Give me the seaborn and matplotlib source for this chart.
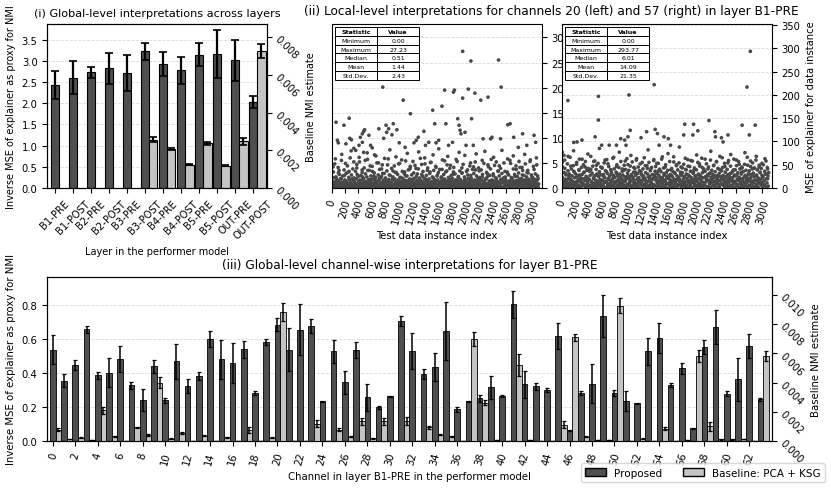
import numpy as np
import pandas as pd
import seaborn as sns
import matplotlib.pyplot as plt
from matplotlib.patches import Patch

sns.set_style("ticks")
plt.rcParams["font.family"] = ["DejaVu Sans"]
plt.rcParams.update({
    "font.size": 7.2,
    "axes.edgecolor": "black",
    "text.color": "black",
    "axes.labelcolor": "black",
    "xtick.color": "black",
    "ytick.color": "black",
    "axes.linewidth": 0.8,
})

DARK = "#4f4f4f"
LIGHT = "#c4c4c4"
POINT = "#484848"

# =========================
# (i) layer-wise data
# =========================
layers = ["B1-PRE", "B1-POST", "B2-PRE", "B2-POST", "B3-PRE", "B3-POST",
          "B4-PRE", "B4-POST", "B5-PRE", "B5-POST", "OUT-PRE", "OUT-POST"]
prop_layer = [2.43, 2.60, 2.73, 2.82, 2.72, 3.23, 2.92, 2.78, 3.15, 3.16, 3.01, 2.03]
prop_layer_err = [0.33, 0.39, 0.13, 0.37, 0.43, 0.20, 0.28, 0.32, 0.26, 0.57, 0.48, 0.14]
base_layer = [np.nan, np.nan, np.nan, np.nan, np.nan, 0.00257, 0.00207, 0.00124,
              0.00237, 0.00119, 0.00248, 0.00726]
base_layer_err = [np.nan, np.nan, np.nan, np.nan, np.nan, 0.00011, 0.00007, 0.00003,
                  0.00009, 0.00003, 0.00019, 0.00037]

# =========================
# (ii) per-instance MSE, channel 20 and 57
# =========================
# dense band, every 10th instance (channel 20, in tenths)
band20_tenths = [
    3, 12, 5, 0, 21, 8, 2, 15, 6, 1, 30, 4, 9, 2, 18, 7, 0, 11, 3, 25,
    5, 1, 14, 8, 2, 6, 33, 3, 10, 0, 7, 19, 4, 2, 12, 5, 1, 9, 27, 3,
    6, 0, 16, 2, 8, 4, 22, 1, 11, 5, 3, 13, 7, 0, 35, 2, 9, 6, 1, 17,
    4, 10, 2, 24, 6, 1, 8, 3, 14, 0, 5, 20, 2, 7, 11, 4, 29, 1, 6, 9,
    2, 15, 5, 0, 12, 3, 26, 7, 1, 10, 4, 18, 6, 2, 8, 31, 3, 0, 13, 5,
    7, 1, 21, 4, 9, 2, 6, 16, 0, 11, 3, 24, 5, 1, 8, 14, 2, 38, 6, 4,
    10, 0, 5, 19, 3, 7, 1, 12, 28, 2, 6, 9, 4, 15, 0, 8, 23, 3, 5, 11,
    1, 17, 6, 2, 13, 4, 0, 32, 7, 3, 10, 5, 20, 1, 9, 2, 14, 6, 26, 0,
    4, 8, 12, 1, 22, 5, 3, 16, 0, 7, 11, 2, 34, 6, 1, 9, 18, 4, 2, 13,
    5, 27, 0, 8, 3, 15, 6, 1, 10, 21, 2, 7, 4, 12, 0, 30, 3, 9, 5, 17,
    2, 11, 6, 0, 19, 4, 8, 1, 25, 3, 14, 7, 2, 10, 5, 36, 1, 6, 13, 0,
    9, 3, 16, 5, 1, 22, 7, 2, 12, 4, 0, 18, 6, 28, 3, 8, 1, 11, 5, 15,
    0, 7, 24, 2, 10, 4, 13, 1, 6, 33, 3, 9, 5, 17, 0, 12, 2, 20, 8, 4,
    14, 1, 6, 29, 3, 11, 0, 8, 5, 19, 2, 15, 7, 1, 23, 4, 10, 6, 0, 13,
    3, 18, 5, 9, 1, 26, 4, 12, 7, 0, 16, 2, 31, 6, 10, 3, 14, 1, 8, 21,
    5, 0, 11, 4, 17, 2, 9, 6, 24, 1,
]
# upper band, instances 5, 15, 25, ... (channel 20, in tenths)
band20b_tenths = [
    15, 8, 32, 12, 48, 6, 22, 18, 9, 41, 14, 27, 7, 19, 55, 11, 24, 10, 36, 16,
    9, 29, 13, 44, 8, 21, 17, 60, 12, 26, 6, 38, 15, 20, 10, 33, 18, 47, 7, 23,
    14, 52, 11, 25, 9, 31, 16, 19, 40, 8, 28, 13, 22, 57, 10, 17, 35, 12, 24, 6,
    43, 18, 9, 30, 15, 21, 11, 50, 7, 26, 14, 37, 19, 8, 23, 46, 12, 16, 29, 10,
    20, 7, 34, 13, 58, 17, 9, 25, 11, 39, 15, 22, 6, 44, 18, 12, 31, 8, 27, 16,
    10, 49, 14, 21, 8, 33, 19, 12, 28, 6, 54, 15, 24, 11, 36, 9, 18, 42, 13, 26,
    17, 8, 30, 12, 45, 10, 23, 16, 7, 38, 14, 20, 59, 9, 27, 13, 33, 11, 19, 48,
    6, 25, 15, 40, 10, 18, 29, 8, 51, 13, 22, 9, 35, 17, 12, 43, 7, 24, 16, 31,
    11, 37, 9, 20, 14, 56, 8, 27, 18, 12, 32, 6, 46, 15, 21, 10, 39, 13, 25, 8,
    19, 12, 41, 7, 28, 16, 9, 53, 14, 23, 11, 34, 17, 8, 30, 13, 47, 10, 22, 15,
    8, 33, 12, 26, 18, 9, 44, 14, 20, 7, 37, 11, 29, 16, 52, 10, 24, 13, 19, 40,
    12, 21, 7, 36, 15, 27, 10, 49, 13, 18, 8, 31, 22, 9, 42, 14, 25, 11, 57, 16,
    9, 28, 14, 45, 10, 20, 17, 8, 34, 12, 24, 6, 39, 15, 29, 11, 19, 50, 13, 22,
    16, 10, 32, 8, 26, 14, 55, 11, 21, 18, 9, 38, 13, 27, 7, 44, 15, 23, 12, 30,
    10, 41, 13, 19, 8, 35, 16, 25, 11, 48, 14, 22, 9, 30, 17, 12, 53, 8, 26, 15,
    21, 9, 37, 13, 28, 11, 46, 16, 19, 8,
]
mid20_x = [20, 55, 110, 150, 205, 240, 290, 330, 375, 410, 455, 500, 530, 575, 610,
           660, 700, 745, 790, 835, 870, 915, 960, 1000, 1045, 1090, 1130, 1175, 1215,
           1260, 1300, 1345, 1390, 1430, 1475, 1515, 1560, 1600, 1650, 1690, 1735, 1775,
           1820, 1860, 1905, 1945, 1990, 2030, 2075, 2120, 2160, 2205, 2250, 2290, 2335,
           2375, 2420, 2460, 2505, 2545, 2590, 2630, 2675, 2715, 2760, 2800, 2845, 2885,
           2930, 2970, 3015, 3060]
mid20_y = [4.2, 5.8, 3.5, 6.7, 4.9, 3.1, 7.4, 5.2, 4.0, 6.1, 3.6, 5.5, 7.0, 4.4, 3.3,
           6.4, 5.0, 3.8, 5.9, 4.6, 7.6, 3.4, 6.2, 4.8, 5.6, 3.2, 6.9, 4.3, 5.3, 3.9,
           7.2, 4.7, 6.0, 3.5, 5.1, 6.6, 4.1, 7.8, 3.7, 5.4, 6.3, 4.5, 3.2, 5.7, 7.1,
           4.0, 6.5, 3.6, 5.0, 4.2, 6.8, 3.4, 5.5, 7.3, 4.6, 3.8, 6.1, 5.2, 4.4, 7.5,
           3.3, 5.8, 4.9, 6.4, 3.7, 5.3, 4.1, 6.7, 3.5, 5.6, 4.3, 6.0]
out20_x = [64, 84, 98, 182, 212, 261, 270, 295, 330, 359, 408, 428, 458, 477, 492, 458,
           477, 556, 581, 605, 640, 704, 763, 777, 812, 851, 822, 900, 920, 974, 1009,
           1068, 1097, 1176, 1230, 1264, 1294, 1378, 1402, 1451, 1510, 1540, 1560, 1599,
           1648, 1688, 1707, 1747, 1806, 1820, 1835, 1884, 1904, 1919, 1933, 1958, 1958,
           1993, 2008, 2042, 2081, 2091, 2116, 2140, 2229, 2263, 2337, 2376, 2396, 2494,
           2534, 2524, 2632, 2667, 2721, 2790, 2854, 2917, 3025, 3049]
out20_y = [13.1, 9.5, 9.0, 12.5, 8.8, 13.9, 9.9, 9.6, 7.9, 7.5, 8.5, 10.1, 10.8, 11.3,
           11.6, 9.1, 7.1, 10.5, 8.5, 8.0, 6.6, 11.8, 20.1, 9.9, 12.5, 11.8, 11.1, 10.6,
           12.8, 11.6, 9.0, 17.5, 8.1, 14.8, 9.0, 9.5, 10.1, 11.3, 8.5, 9.1, 15.5, 12.8,
           9.0, 9.5, 16.3, 19.5, 12.8, 8.5, 9.1, 19.1, 19.5, 13.8, 12.5, 11.5, 10.8, 17.9,
           27.23, 11.1, 8.5, 19.7, 25.3, 13.8, 8.5, 18.9, 17.5, 9.8, 18.1, 9.8, 10.1, 25.5,
           20.1, 9.8, 12.6, 12.8, 10.1, 8.1, 10.8, 8.5, 10.5, 9.1]

band57 = [
    6, 22, 3, 14, 9, 1, 31, 5, 17, 8, 2, 26, 11, 4, 19, 7, 0, 13, 36, 5,
    10, 3, 24, 8, 1, 15, 6, 28, 2, 12, 4, 20, 9, 33, 5, 16, 1, 7, 23, 11,
    2, 18, 6, 40, 4, 13, 8, 1, 21, 10, 3, 27, 5, 15, 0, 9, 30, 6, 12, 2,
    17, 7, 4, 25, 11, 1, 14, 35, 3, 8, 19, 5, 10, 2, 29, 6, 13, 4, 22, 9,
    1, 12, 32, 5, 16, 3, 9, 24, 7, 0, 18, 11, 4, 38, 6, 14, 2, 20, 8, 26,
    4, 10, 15, 1, 27, 6, 3, 19, 12, 8, 34, 2, 9, 5, 21, 14, 0, 11, 7, 30,
    13, 3, 23, 8, 5, 17, 1, 10, 42, 4, 15, 6, 25, 2, 12, 9, 19, 3, 7, 28,
    5, 16, 2, 11, 36, 7, 4, 22, 13, 1, 9, 18, 6, 31, 3, 14, 8, 24, 0, 10,
    20, 6, 12, 3, 27, 9, 1, 15, 5, 33, 11, 2, 18, 7, 4, 23, 14, 8, 29, 1,
    7, 13, 4, 21, 10, 2, 39, 6, 16, 3, 11, 25, 5, 9, 1, 17, 12, 32, 4, 8,
    14, 2, 19, 6, 28, 11, 3, 8, 24, 5, 13, 1, 35, 7, 10, 4, 20, 15, 2, 26,
    3, 9, 17, 1, 12, 30, 6, 22, 4, 14, 8, 0, 19, 11, 27, 5, 2, 16, 9, 37,
    8, 21, 5, 13, 2, 10, 25, 7, 1, 18, 12, 4, 31, 6, 15, 3, 23, 9, 0, 14,
    11, 4, 28, 7, 16, 1, 20, 10, 3, 34, 6, 13, 2, 24, 9, 5, 18, 12, 1, 29,
    6, 15, 3, 22, 9, 41, 4, 11, 17, 2, 26, 8, 5, 14, 1, 19, 10, 33, 7, 12,
    2, 24, 8, 16, 5, 30, 1, 11, 20, 4,
]
band57b = [
    24, 45, 15, 33, 60, 19, 28, 12, 52, 37, 21, 30, 66, 17, 41, 26, 14, 48, 35, 22,
    31, 13, 55, 27, 18, 39, 62, 23, 16, 44, 29, 11, 50, 34, 20, 57, 25, 38, 15, 42,
    19, 36, 27, 68, 14, 32, 47, 21, 26, 58, 17, 40, 30, 12, 53, 24, 35, 18, 45, 28,
    43, 16, 29, 54, 22, 37, 13, 61, 31, 20, 46, 25, 15, 39, 33, 19, 64, 27, 41, 23,
    14, 34, 50, 26, 18, 44, 30, 12, 57, 21, 36, 28, 16, 49, 24, 40, 19, 63, 32, 25,
    38, 20, 47, 15, 29, 56, 23, 34, 13, 42, 27, 60, 18, 31, 45, 22, 16, 52, 35, 28,
    17, 41, 26, 65, 21, 33, 14, 48, 30, 24, 55, 19, 37, 12, 44, 29, 20, 59, 25, 36,
    46, 22, 31, 15, 53, 27, 40, 18, 35, 62, 23, 13, 43, 28, 17, 50, 33, 21, 38, 26,
    20, 57, 29, 16, 42, 24, 35, 67, 19, 31, 14, 48, 26, 39, 22, 54, 18, 34, 45, 27,
    33, 18, 51, 25, 13, 40, 30, 21, 61, 28, 16, 46, 36, 23, 15, 58, 32, 19, 43, 26,
    24, 39, 14, 55, 30, 20, 47, 27, 17, 64, 33, 22, 41, 12, 36, 25, 52, 18, 29, 45,
    15, 32, 60, 23, 38, 19, 28, 49, 13, 35, 26, 56, 21, 42, 16, 31, 68, 24, 37, 20,
    44, 27, 17, 53, 34, 22, 14, 40, 29, 59, 25, 18, 47, 32, 21, 36, 15, 62, 28, 39,
    26, 48, 19, 33, 57, 23, 41, 16, 30, 45, 20, 35, 13, 51, 27, 38, 24, 66, 18, 31,
    37, 21, 46, 29, 14, 54, 32, 25, 43, 17, 60, 28, 39, 22, 15, 49, 34, 19, 42, 27,
    23, 50, 16, 36, 30, 58, 20, 44, 26, 33,
]
mid57_x = [10, 48, 95, 135, 178, 222, 262, 305, 350, 392, 436, 478, 520, 565, 606, 648,
           692, 735, 778, 820, 862, 905, 950, 992, 1035, 1078, 1120, 1162, 1205, 1250,
           1292, 1335, 1378, 1420, 1462, 1505, 1548, 1590, 1632, 1676, 1718, 1760, 1805,
           1848, 1890, 1932, 1975, 2018, 2060, 2102, 2145, 2188, 2230, 2272, 2315, 2358,
           2400, 2442, 2485, 2528, 2570, 2612, 2655, 2698, 2740, 2782, 2825, 2868, 2910,
           2952, 2995, 3040, 3080]
mid57_y = [55, 42, 68, 47, 80, 51, 38, 62, 45, 73, 40, 57, 49, 85, 43, 60, 52, 39, 66,
           46, 77, 41, 58, 50, 70, 44, 63, 37, 55, 48, 82, 42, 61, 53, 40, 67, 45, 74,
           39, 56, 50, 88, 43, 64, 47, 59, 38, 71, 52, 44, 62, 41, 79, 48, 57, 40, 65,
           46, 54, 72, 39, 60, 51, 43, 76, 49, 58, 42, 68, 45, 53, 63, 41]
out57_x = [10, 34, 93, 181, 230, 304, 500, 549, 549, 598, 711, 819, 883, 942, 962, 991,
           1006, 1025, 1187, 1270, 1383, 1398, 1432, 1457, 1530, 1594, 1628, 1825, 1840,
           1962, 1972, 2036, 2202, 2291, 2300, 2389, 2413, 2487, 2698, 2771, 2806, 2821,
           2894]
out57_y = [77, 70, 188, 98, 99, 103, 110, 197, 146, 92, 92, 92, 106, 103, 92, 110, 200,
           124, 108, 121, 222, 126, 117, 92, 110, 106, 92, 114, 137, 114, 137, 123, 145,
           121, 110, 108, 99, 114, 135, 217, 114, 293.77, 135]

stat_names = ["Minimum", "Maximum", "Median", "Mean", "Std.Dev."]
stats20 = ["0.00", "27.23", "0.51", "1.44", "2.43"]
stats57 = ["0.00", "293.77", "6.01", "14.09", "21.35"]

# =========================
# (iii) channel-wise data, layer B1-PRE
# =========================
prop_ch = [0.539, 0.356, 0.450, 0.659, 0.388, 0.404, 0.483, 0.329, 0.240, 0.440,
           0.240, 0.471, 0.325, 0.386, 0.602, 0.483, 0.459, 0.543, 0.283, 0.584,
           0.687, 0.539, 0.657, 0.681, 0.236, 0.529, 0.347, 0.537, 0.257, 0.198,
           0.263, 0.709, 0.533, 0.398, 0.436, 0.650, 0.188, 0.234, 0.251, 0.317,
           0.267, 0.808, 0.335, 0.323, 0.299, 0.622, 0.063, 0.285, 0.339, 0.737,
           0.283, 0.236, 0.222, 0.531, 0.608, 0.331, 0.430, 0.075, 0.556, 0.673,
           0.279, 0.364, 0.560, 0.246]
prop_ch_err = [0.086, 0.040, 0.030, 0.022, 0.020, 0.086, 0.077, 0.022, 0.065, 0.036,
               0.014, 0.103, 0.044, 0.024, 0.048, 0.115, 0.118, 0.050, 0.014, 0.020,
               0.040, 0.128, 0.152, 0.042, 0.003, 0.067, 0.069, 0.047, 0.081, 0.008,
               0.003, 0.031, 0.106, 0.030, 0.082, 0.172, 0.014, 0.005, 0.019, 0.067,
               0.006, 0.079, 0.081, 0.022, 0.012, 0.077, 0.004, 0.012, 0.117, 0.123,
               0.016, 0.057, 0.004, 0.080, 0.091, 0.012, 0.033, 0.004, 0.042, 0.100,
               0.016, 0.125, 0.071, 0.009]
base_ch = [0.00077, 0.00014, 0.00023, 0.00005, 0.00210, 0.00032, 0.00002, 0.00093, 0.00041, 0.00400,
           0.00016, 0.00055, 0.00002, 0.00036, 0.00002, 0.00027, 0.00002, 0.00073, 0.00002, 0.00023,
           0.00882, 0.00002, 0.00002, 0.00118, 0.00002, 0.00077, 0.00030, 0.00136, 0.00018, 0.00136,
           0.00002, 0.00136, 0.00002, 0.00095, 0.00043, 0.00032, 0.00002, 0.00700, 0.00261, 0.00007,
           0.00002, 0.00523, 0.00005, 0.00002, 0.00002, 0.00111, 0.00711, 0.00030, 0.00007, 0.00007,
           0.00927, 0.00002, 0.00016, 0.00002, 0.00084, 0.00002, 0.00007, 0.00582, 0.00100, 0.00011,
           0.00011, 0.00014, 0.00002, 0.00582]
base_ch_err = [0.0001, 0.00002, 0.00003, 0.00001, 0.00025, 0.00005, 0.00001, 0.00006, 0.00005, 0.00039,
               0.00002, 0.00004, 0.00001, 0.00004, 0.00001, 0.00003, 0.00001, 0.0002, 0.00001, 0.00003,
               0.00062, 0.00001, 0.00001, 0.00023, 0.00001, 0.0001, 0.00004, 0.00023, 0.00003, 0.00023,
               0.00001, 0.00027, 0.00001, 0.0001, 0.00004, 0.00004, 0.00001, 0.00049, 0.00017, 0.00001,
               0.00001, 0.00075, 0.00001, 0.00001, 0.00001, 0.00023, 0.00025, 0.00004, 0.00001, 0.00001,
               0.0005, 0.00001, 0.00003, 0.00001, 0.0001, 0.00001, 0.00001, 0.00043, 0.00032, 0.00002,
               0.00002, 0.00002, 0.00001, 0.00034]


def rotate_right_labels(ax):
    plt.setp(ax.get_yticklabels(), rotation=-45, rotation_mode="anchor",
             ha="left", va="center")


def add_grid(ax):
    ax.yaxis.grid(True, linestyle="--", color="#cccccc", linewidth=0.6, alpha=0.7)
    ax.set_axisbelow(True)


fig = plt.figure(figsize=(8.31, 4.89), dpi=100)

# =========================
# (i) Global-level across layers
# =========================
ax1 = fig.add_axes([0.0569, 0.6135, 0.2647, 0.3354])
x1 = np.arange(len(layers))
w1 = 0.46
ax1.bar(x1, prop_layer, w1, yerr=prop_layer_err, color=DARK, edgecolor="black",
        linewidth=0.8, capsize=3, error_kw=dict(elinewidth=1.6, capthick=1.2))
ax1.set_ylim(0, 3.87)
ax1.set_xlim(-0.42, len(layers) - 0.22)
ax1.set_yticks(np.arange(0, 3.6, 0.5))
ax1.set_xticks(x1)
ax1.set_xticklabels(layers, rotation=45, ha="center")
ax1.set_xlabel("Layer in the performer model", fontsize=7)
ax1.set_ylabel("Inverse MSE of explainer as proxy for NMI", fontsize=7)
ax1.set_title("(i) Global-level interpretations across layers", fontsize=8.1)
add_grid(ax1)

ax1b = ax1.twinx()
ax1b.bar(x1 + w1, base_layer, w1, yerr=base_layer_err, color=LIGHT, edgecolor="black",
         linewidth=0.8, capsize=3, error_kw=dict(elinewidth=1.6, capthick=1.2))
ax1b.set_ylim(0, 0.0087)
ax1b.set_yticks(np.arange(0, 0.0081, 0.002))
ax1b.set_yticklabels([f"{v:.3f}" for v in np.arange(0, 0.0081, 0.002)])
ax1b.set_ylabel("Baseline NMI estimate", fontsize=7)
rotate_right_labels(ax1b)


# =========================
# (ii) Local-level scatter panels
# =========================
def scatter_panel(rect, xs, ys, ymax, yticks, stats, ylabel=None):
    ax = fig.add_axes(rect)
    df = pd.DataFrame({"idx": xs, "mse": ys})
    sns.scatterplot(data=df, x="idx", y="mse", ax=ax, s=7, color=POINT,
                    linewidth=0, edgecolor="none")
    ax.set_xlim(0, 3140)
    ax.set_ylim(0, ymax)
    ax.set_xticks(np.arange(0, 3001, 200))
    ax.tick_params(axis="x", labelrotation=75)
    ax.set_yticks(yticks)
    ax.yaxis.tick_right()
    ax.yaxis.set_label_position("right")
    ax.set_xlabel("Test data instance index")
    ax.set_ylabel(ylabel if ylabel else "")
    add_grid(ax)

    tb = ax.table(cellText=[[n, v] for n, v in zip(stat_names, stats)],
                  colLabels=["Statistic", "Value"], cellLoc="center",
                  bbox=[0.016, 0.659, 0.40, 0.323])
    tb.auto_set_font_size(False)
    tb.set_fontsize(4.5)
    tb.set_zorder(5)
    for (r, c), cell in tb.get_celld().items():
        cell.set_linewidth(0.7)
        if r == 0:
            cell.set_text_props(fontweight="bold")
    return ax


idx_band = np.arange(0, 3100, 10)
idx_band_b = np.arange(5, 3100, 10)
x20 = np.concatenate([idx_band, idx_band_b, mid20_x, out20_x])
y20 = np.concatenate([np.array(band20_tenths) / 10.0, np.array(band20b_tenths) / 10.0,
                      mid20_y, out20_y])
x57 = np.concatenate([idx_band, idx_band_b, mid57_x, out57_x])
y57 = np.concatenate([band57, band57b, mid57_y, out57_y])

scatter_panel([0.3992, 0.6135, 0.2527, 0.3354], x20, y20, 27.23 * 1.2,
              np.arange(0, 31, 5), stats20)
scatter_panel([0.6759, 0.6135, 0.2527, 0.3354], x57, y57, 293.77 * 1.2,
              np.arange(0, 351, 50), stats57, ylabel="MSE of explainer for data instance")
fig.text(0.6639, 1 - 12 / 489,
         "(ii) Local-level interpretations for channels 20 (left) and 57 (right) in layer B1-PRE",
         ha="center", va="center", fontsize=8.7)

# =========================
# (iii) Channel-wise for B1-PRE
# =========================
ax3 = fig.add_axes([0.05656, 0.0961, 0.8721, 0.336])
x3 = np.arange(len(prop_ch))
ax3.bar(x3, prop_ch, 0.5, yerr=prop_ch_err, color=DARK, edgecolor="black",
        linewidth=0.6, capsize=1.6, error_kw=dict(elinewidth=1.1, capthick=0.9))
ax3.set_ylim(0, 0.97)
ax3.set_xlim(-0.52, len(prop_ch))
ax3.set_yticks(np.arange(0, 0.81, 0.2))
ax3.set_xticks(np.arange(0, 64, 2))
ax3.tick_params(axis="x", labelrotation=75)
ax3.set_xlabel("Channel in layer B1-PRE in the performer model", fontsize=7.3)
ax3.set_ylabel("Inverse MSE of explainer as proxy for NMI", fontsize=7.3)
ax3.set_title("(iii) Global-level channel-wise interpretations for layer B1-PRE",
              fontsize=8.7)
add_grid(ax3)

ax3b = ax3.twinx()
ax3b.bar(x3 + 0.5, base_ch, 0.5, yerr=base_ch_err, color=LIGHT, edgecolor="black",
         linewidth=0.6, capsize=1.6, error_kw=dict(elinewidth=1.1, capthick=0.9))
ax3b.set_ylim(0, 0.01126)
ax3b.set_yticks(np.arange(0, 0.0101, 0.002))
ax3b.set_yticklabels([f"{v:.3f}" for v in np.arange(0, 0.0101, 0.002)])
ax3b.set_ylabel("Baseline NMI estimate", fontsize=7.3)
rotate_right_labels(ax3b)

fig.legend(handles=[Patch(facecolor=DARK, edgecolor="black", label="Proposed"),
                    Patch(facecolor=LIGHT, edgecolor="black", label="Baseline: PCA + KSG")],
           loc="lower right", bbox_to_anchor=(0.999, 0.002), ncol=2, fontsize=7.5,
           frameon=True)

fig.savefig("out.png", dpi=100)
